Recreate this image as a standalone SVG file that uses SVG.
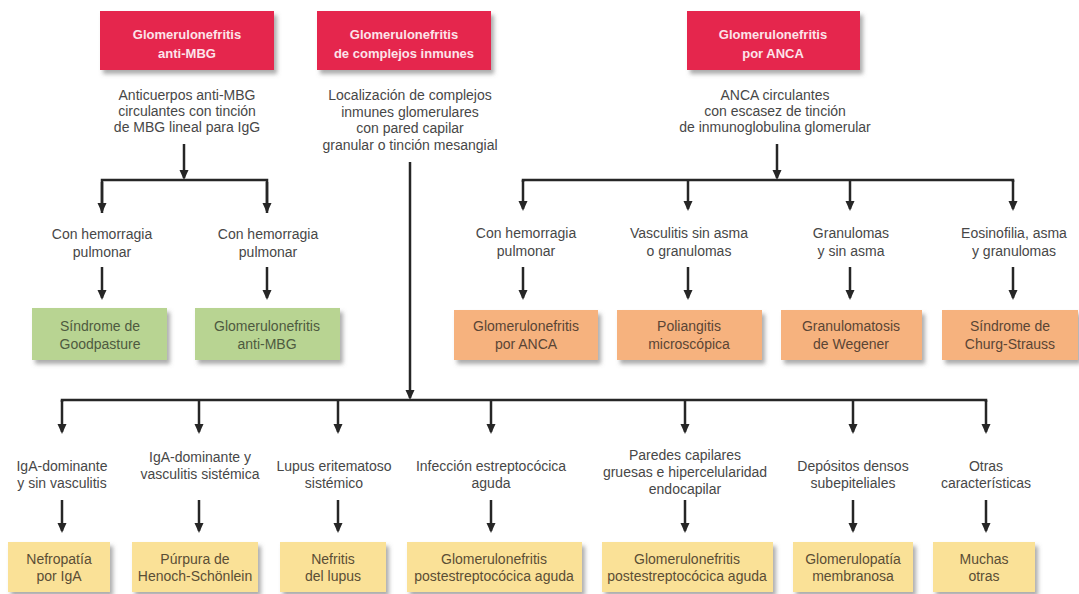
<svg xmlns="http://www.w3.org/2000/svg" width="1079" height="594" viewBox="0 0 1079 594">
<defs>
<filter id="sh" x="-10%" y="-10%" width="130%" height="140%">
<feDropShadow dx="3" dy="4" stdDeviation="2" flood-color="#666" flood-opacity="0.55"/>
</filter>
<marker id="ah" markerUnits="userSpaceOnUse" markerWidth="10" markerHeight="10" refX="8" refY="5" orient="auto">
<path d="M0,0.5 L10,5 L0,9.5 z" fill="#262626"/>
</marker>
</defs>
<style>
.red{fill:#E5264D;filter:url(#sh)}
.grn{fill:#B8D492;filter:url(#sh)}
.org{fill:#F6B27E;filter:url(#sh)}
.yel{fill:#FAE197;filter:url(#sh)}
text{font-family:"Liberation Sans",Arial,sans-serif;font-size:14px;text-anchor:middle}
.rt{fill:#FCE4EA;font-weight:bold;font-size:13px}
.lb{fill:#474747}
.gt{fill:#4E5A40}
.ot{fill:#5A4535}
.yt{fill:#5A4E35}
.c{fill:none;stroke:#262626;stroke-width:2.5}
.a{fill:none;stroke:#262626;stroke-width:2.5;marker-end:url(#ah)}
</style>
<rect width="1079" height="594" fill="#fff"/>

<g id="connectors">
<path class="a" d="M184,144 V178"/>
<path class="c" d="M102,213 V180 H267 V213"/>
<path class="a" d="M102,182 V211"/>
<path class="a" d="M267,182 V211"/>
<path class="a" d="M102,267 V298"/>
<path class="a" d="M267,267 V298"/>

<path class="a" d="M777,144 V178"/>
<path class="c" d="M523,182 V180 H1013 V182"/>
<path class="a" d="M523,180 V209"/>
<path class="a" d="M688,180 V209"/>
<path class="a" d="M850,180 V209"/>
<path class="a" d="M1013,180 V209"/>
<path class="a" d="M523,267 V298"/>
<path class="a" d="M688,267 V298"/>
<path class="a" d="M850,267 V298"/>
<path class="a" d="M1013,267 V298"/>

<path class="a" d="M410,162 V398"/>
<path class="c" d="M62,402 V400 H986 V402"/>
<path class="a" d="M62,400 V432"/>
<path class="a" d="M199,400 V432"/>
<path class="a" d="M338,400 V432"/>
<path class="a" d="M491,400 V432"/>
<path class="a" d="M685,400 V432"/>
<path class="a" d="M853,400 V432"/>
<path class="a" d="M986,400 V432"/>
<path class="a" d="M62,500 V531"/>
<path class="a" d="M199,500 V531"/>
<path class="a" d="M338,500 V531"/>
<path class="a" d="M491,500 V531"/>
<path class="a" d="M685,500 V531"/>
<path class="a" d="M853,500 V531"/>
<path class="a" d="M986,500 V531"/>
</g>

<g id="gn-antimbg">
<rect class="red" x="100" y="11" width="174" height="59"/>
<text class="rt" x="187" y="39">Glomerulonefritis</text>
<text class="rt" x="187" y="58">anti-MBG</text>
</g>
<g id="gn-complejos">
<rect class="red" x="317" y="11" width="174" height="59"/>
<text class="rt" x="404" y="39">Glomerulonefritis</text>
<text class="rt" x="404" y="58">de complejos inmunes</text>
</g>
<g id="gn-anca">
<rect class="red" x="687" y="11" width="173" height="59"/>
<text class="rt" x="773" y="39">Glomerulonefritis</text>
<text class="rt" x="773" y="58">por ANCA</text>
</g>

<g id="desc-antimbg">
<text class="lb" x="187" y="100">Anticuerpos anti-MBG</text>
<text class="lb" x="187" y="116">circulantes con tinción</text>
<text class="lb" x="187" y="132">de MBG lineal para IgG</text>
</g>
<g id="desc-complejos">
<text class="lb" x="410" y="100">Localización de complejos</text>
<text class="lb" x="410" y="116.5">inmunes glomerulares</text>
<text class="lb" x="410" y="133">con pared capilar</text>
<text class="lb" x="410" y="149.5">granular o tinción mesangial</text>
</g>
<g id="desc-anca">
<text class="lb" x="775" y="100">ANCA circulantes</text>
<text class="lb" x="775" y="116">con escasez de tinción</text>
<text class="lb" x="775" y="132">de inmunoglobulina glomerular</text>
</g>

<g id="lbl-mbg1"><text class="lb" x="102" y="239">Con hemorragia</text><text class="lb" x="102" y="257">pulmonar</text></g>
<g id="lbl-mbg2"><text class="lb" x="268" y="239">Con hemorragia</text><text class="lb" x="268" y="257">pulmonar</text></g>
<g id="lbl-anca1"><text class="lb" x="526" y="238">Con hemorragia</text><text class="lb" x="526" y="256">pulmonar</text></g>
<g id="lbl-anca2"><text class="lb" x="689" y="238">Vasculitis sin asma</text><text class="lb" x="689" y="256">o granulomas</text></g>
<g id="lbl-anca3"><text class="lb" x="851" y="238">Granulomas</text><text class="lb" x="851" y="256">y sin asma</text></g>
<g id="lbl-anca4"><text class="lb" x="1014" y="238">Eosinofilia, asma</text><text class="lb" x="1014" y="256">y granulomas</text></g>

<g id="goodpasture">
<rect class="grn" x="32" y="308" width="135" height="52"/>
<text class="gt" x="100" y="331">Síndrome de</text>
<text class="gt" x="100" y="349">Goodpasture</text>
</g>
<g id="gn-antimbg-out">
<rect class="grn" x="195" y="308" width="145" height="52"/>
<text class="gt" x="267" y="331">Glomerulonefritis</text>
<text class="gt" x="267" y="349">anti-MBG</text>
</g>

<g id="gn-anca-out">
<rect class="org" x="454" y="310" width="144" height="50"/>
<text class="ot" x="526" y="331">Glomerulonefritis</text>
<text class="ot" x="526" y="349">por ANCA</text>
</g>
<g id="poliangitis">
<rect class="org" x="617" y="310" width="145" height="50"/>
<text class="ot" x="689" y="331">Poliangitis</text>
<text class="ot" x="689" y="349">microscópica</text>
</g>
<g id="wegener">
<rect class="org" x="781" y="310" width="141" height="50"/>
<text class="ot" x="851" y="331">Granulomatosis</text>
<text class="ot" x="851" y="349">de Wegener</text>
</g>
<g id="churg">
<rect class="org" x="942" y="310" width="136" height="50"/>
<text class="ot" x="1010" y="331">Síndrome de</text>
<text class="ot" x="1010" y="349">Churg-Strauss</text>
</g>

<g id="lbl-b1"><text class="lb" x="62" y="471">IgA-dominante</text><text class="lb" x="62" y="488">y sin vasculitis</text></g>
<g id="lbl-b2"><text class="lb" x="200" y="462">IgA-dominante y</text><text class="lb" x="200" y="479">vasculitis sistémica</text></g>
<g id="lbl-b3"><text class="lb" x="334" y="471">Lupus eritematoso</text><text class="lb" x="334" y="488">sistémico</text></g>
<g id="lbl-b4"><text class="lb" x="491" y="471">Infección estreptocócica</text><text class="lb" x="491" y="488">aguda</text></g>
<g id="lbl-b5"><text class="lb" x="685" y="460">Paredes capilares</text><text class="lb" x="685" y="477">gruesas e hipercelularidad</text><text class="lb" x="685" y="494">endocapilar</text></g>
<g id="lbl-b6"><text class="lb" x="853" y="471">Depósitos densos</text><text class="lb" x="853" y="488">subepiteliales</text></g>
<g id="lbl-b7"><text class="lb" x="986" y="471">Otras</text><text class="lb" x="986" y="488">características</text></g>

<g id="nefropatia-iga">
<rect class="yel" x="8" y="542" width="102" height="50"/>
<text class="yt" x="59" y="564">Nefropatía</text>
<text class="yt" x="59" y="581">por IgA</text>
</g>
<g id="henoch">
<rect class="yel" x="132" y="542" width="126" height="50"/>
<text class="yt" x="195" y="564">Púrpura de</text>
<text class="yt" x="195" y="581">Henoch-Schönlein</text>
</g>
<g id="lupus">
<rect class="yel" x="280" y="542" width="106" height="50"/>
<text class="yt" x="333" y="564">Nefritis</text>
<text class="yt" x="333" y="581">del lupus</text>
</g>
<g id="postestrep1">
<rect class="yel" x="407" y="542" width="175" height="50"/>
<text class="yt" x="494" y="564">Glomerulonefritis</text>
<text class="yt" x="494" y="581">postestreptocócica aguda</text>
</g>
<g id="postestrep2">
<rect class="yel" x="602" y="542" width="171" height="50"/>
<text class="yt" x="687" y="564">Glomerulonefritis</text>
<text class="yt" x="687" y="581">postestreptocócica aguda</text>
</g>
<g id="membranosa">
<rect class="yel" x="793" y="542" width="120" height="50"/>
<text class="yt" x="853" y="564">Glomerulopatía</text>
<text class="yt" x="853" y="581">membranosa</text>
</g>
<g id="otras">
<rect class="yel" x="933" y="542" width="102" height="50"/>
<text class="yt" x="984" y="564">Muchas</text>
<text class="yt" x="984" y="581">otras</text>
</g>
</svg>
